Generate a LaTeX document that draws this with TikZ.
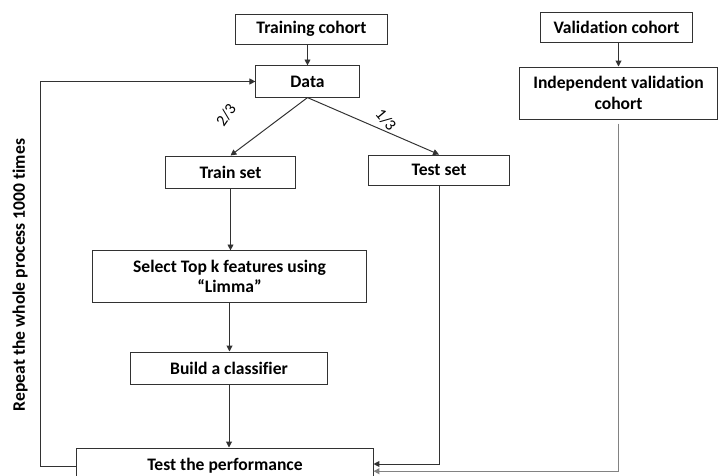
\documentclass[tikz,border=0pt]{standalone}
\usepackage{fontspec}
\setmainfont{Carlito}[Ligatures=NoCommon]
\usepackage{tikz}
\usetikzlibrary{arrows.meta, positioning, calc}
\usepackage{xcolor}
\definecolor{boxline}{RGB}{50,50,50}
\definecolor{valline}{RGB}{130,130,130}

\begin{document}
\begin{tikzpicture}[
    x=0.025cm, y=-0.025cm,
    box/.style={rectangle, draw=boxline, line width=0.7pt, fill=white, align=center, inner sep=1pt,
        font=\fontsize{12.5}{14.5}\selectfont\bfseries},
    arrow/.style={-{Triangle[length=4.2pt, width=4.2pt]}, line width=0.7pt, draw=boxline},
    frac/.style={font=\fontsize{11.5}{13}\selectfont}
]
\clip (0,0) rectangle (718,475);
\node[box, minimum width=3.78cm, minimum height=0.75cm] (cohort) at (311.5,29) {Training cohort};
\node[box, minimum width=2.58cm, minimum height=0.78cm] (data) at (307.5,81.5) {Data};
\node[box, minimum width=3.78cm, minimum height=0.75cm] (valid) at (616.5,27) {Validation cohort};
\node[box, minimum width=4.93cm, minimum height=1.3cm] (indep) at (618.5,93) {Independent validation\\cohort};
\node[box, minimum width=3.23cm, minimum height=0.8cm] (trainset) at (230.5,172) {Train set};
\node[box, minimum width=3.5cm, minimum height=0.75cm] (testset) at (439,170) {Test set};
\node[box, minimum width=6.83cm, minimum height=1.28cm] (select) at (229.5,276.5) {Select Top k features using\\``Limma''};
\node[box, minimum width=4.9cm, minimum height=0.8cm] (build) at (229,368) {Build a classifier};
\node[box, minimum width=7.4cm, minimum height=0.9cm] (perf) at (225,466) {Test the performance};

\node[font=\fontsize{12.5}{14.5}\selectfont\bfseries, rotate=90] (repeat) at (20,275) {Repeat the whole process 1000 times};
\node[frac, rotate=55] (twothirds) at (226,115) {2/3};
\node[frac, rotate=-50] (onethird) at (386,120) {1/3};
\coordinate (loop) at (40,466);

\draw[arrow] (data.north |- cohort.south) -- (data);
\draw[arrow] (indep.north |- valid.south) -- (indep);
\draw[arrow] (data.south) -- (trainset.north);
\draw[arrow] (data.south) -- (testset.north);
\draw[arrow] (trainset.south) -- (trainset.south |- select.north);
\draw[arrow] (select.south) -- (select.south |- build.north);
\draw[arrow] (build.south) -- (build.south |- perf.north);
\draw[arrow] (perf.west) -- (loop) |- (data.west);
\draw[arrow] (testset.south) |- ([yshift=0.05cm]perf.east);
\draw[arrow, draw=valline, line width=1pt, shorten <=3pt] (indep.south) |- ([yshift=-0.13cm]perf.east);
\end{tikzpicture}
\end{document}
